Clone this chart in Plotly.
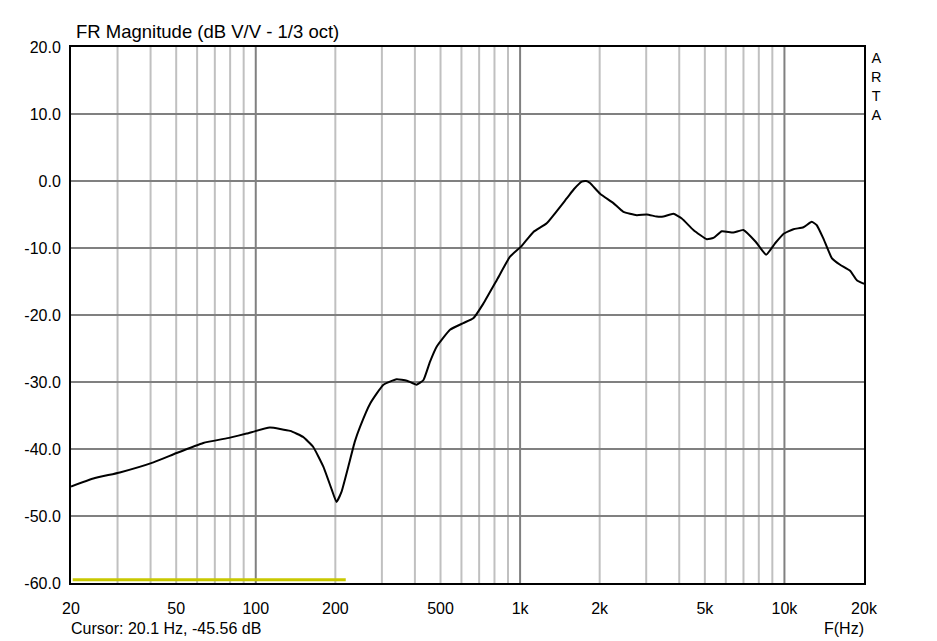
import plotly.graph_objects as go

# ---- data ----
freq_hz = [20, 24.3, 30.6, 41.0, 50.2, 63.3, 79.9, 92.4, 113, 135, 151, 165, 180, 194, 202, 211,
           224, 237, 248, 271, 304, 341, 373, 406, 431, 456, 484, 543, 610, 665, 726, 816, 916,
           1008, 1123, 1261, 1501, 1600, 1711, 1780, 1839, 2007, 2254, 2458, 2762, 3016, 3289,
           3484, 3802, 4090, 4524, 5086, 5386, 5794, 6408, 6995, 7800, 8524, 9217, 9908, 10814,
           11796, 12692, 13256, 14043, 15107, 16240, 17720, 18782, 19894, 20000]
mag_db = [-45.6, -44.4, -43.5, -42.0, -40.6, -39.1, -38.3, -37.7, -36.8, -37.3, -38.2, -39.7,
          -42.6, -46.1, -47.9, -46.4, -42.6, -38.9, -36.7, -33.2, -30.4, -29.6, -29.8, -30.4,
          -29.7, -27.0, -24.7, -22.2, -21.2, -20.5, -18.3, -14.8, -11.3, -9.8, -7.6, -6.3, -2.6,
          -1.2, -0.1, 0.0, -0.3, -1.9, -3.3, -4.6, -5.1, -5.0, -5.3, -5.3, -4.9, -5.6, -7.3,
          -8.7, -8.5, -7.5, -7.7, -7.3, -9.1, -11.0, -9.3, -7.9, -7.2, -6.9, -6.1, -6.6, -8.6,
          -11.5, -12.5, -13.4, -14.8, -15.3, -15.3]

band_freq = [20.3, 219]
band_db = [-59.5, -59.5]

x_tick_vals = [20, 50, 100, 200, 500, 1000, 2000, 5000, 10000, 20000]
x_tick_text = ["20", "50", "100", "200", "500", "1k", "2k", "5k", "10k", "20k"]
y_tick_vals = [-60, -50, -40, -30, -20, -10, 0, 10, 20]
y_tick_text = ["-60.0", "-50.0", "-40.0", "-30.0", "-20.0", "-10.0", "0.0", "10.0", "20.0"]

grid_minor = [30, 40, 50, 60, 70, 80, 90, 200, 300, 400, 500, 600, 700, 800, 900,
              2000, 3000, 4000, 5000, 6000, 7000, 8000, 9000]
grid_major = [100, 1000, 10000]

FONT = "Liberation Sans, Arial, sans-serif"

fig = go.Figure()
fig.add_trace(go.Scatter(x=band_freq, y=band_db, mode="lines",
                         line=dict(color="#c8c800", width=3), hoverinfo="skip"))
fig.add_trace(go.Scatter(x=freq_hz, y=mag_db, mode="lines",
                         line=dict(color="black", width=2, shape="spline", smoothing=0.4)))

shapes = []
for f in grid_minor:
    shapes.append(dict(type="line", xref="x", yref="paper", x0=f, x1=f, y0=0, y1=1,
                       line=dict(color="#c0c0c0", width=2), layer="below"))
for f in grid_major:
    shapes.append(dict(type="line", xref="x", yref="paper", x0=f, x1=f, y0=0, y1=1,
                       line=dict(color="#808080", width=2), layer="below"))

# page body has an 8px margin: compensate so the plot area lands at x 71..864, y 47..583
fig.update_layout(
    width=929, height=633,
    margin=dict(l=63, r=73, t=39, b=58),
    paper_bgcolor="white", plot_bgcolor="white",
    showlegend=False,
    font=dict(family=FONT, size=16, color="black"),
    shapes=shapes,
    xaxis=dict(type="log", range=[1.30103, 4.30103], tickvals=x_tick_vals, ticktext=x_tick_text,
               showgrid=False, zeroline=False, showline=True, linecolor="black", linewidth=2,
               mirror=True, ticks="", ticklabelstandoff=10, tickfont=dict(size=16)),
    yaxis=dict(range=[-60, 20], tickvals=y_tick_vals, ticktext=y_tick_text,
               showgrid=True, gridcolor="#808080", gridwidth=2, zeroline=False,
               showline=True, linecolor="black", linewidth=2, mirror=True, ticks="",
               ticklabelstandoff=5, tickfont=dict(size=16)),
    annotations=[
        dict(text="FR Magnitude (dB V/V - 1/3 oct)", xref="paper", yref="paper",
             x=0.004, y=1.028, xanchor="left", yanchor="middle", showarrow=False,
             font=dict(size=18.5)),
        dict(text="Cursor: 20.1 Hz, -45.56 dB", xref="paper", yref="paper",
             x=-0.002, y=-0.084, xanchor="left", yanchor="middle", showarrow=False,
             font=dict(size=16)),
        dict(text="F(Hz)", xref="paper", yref="paper",
             x=1.002, y=-0.084, xanchor="right", yanchor="middle", showarrow=False,
             font=dict(size=16)),
        dict(text="A<br>R<br>T<br>A", xref="paper", yref="paper",
             x=1.015, y=0.998, xanchor="center", yanchor="top", showarrow=False,
             font=dict(size=14.5)),
    ],
)

fig.write_html("out.html")
